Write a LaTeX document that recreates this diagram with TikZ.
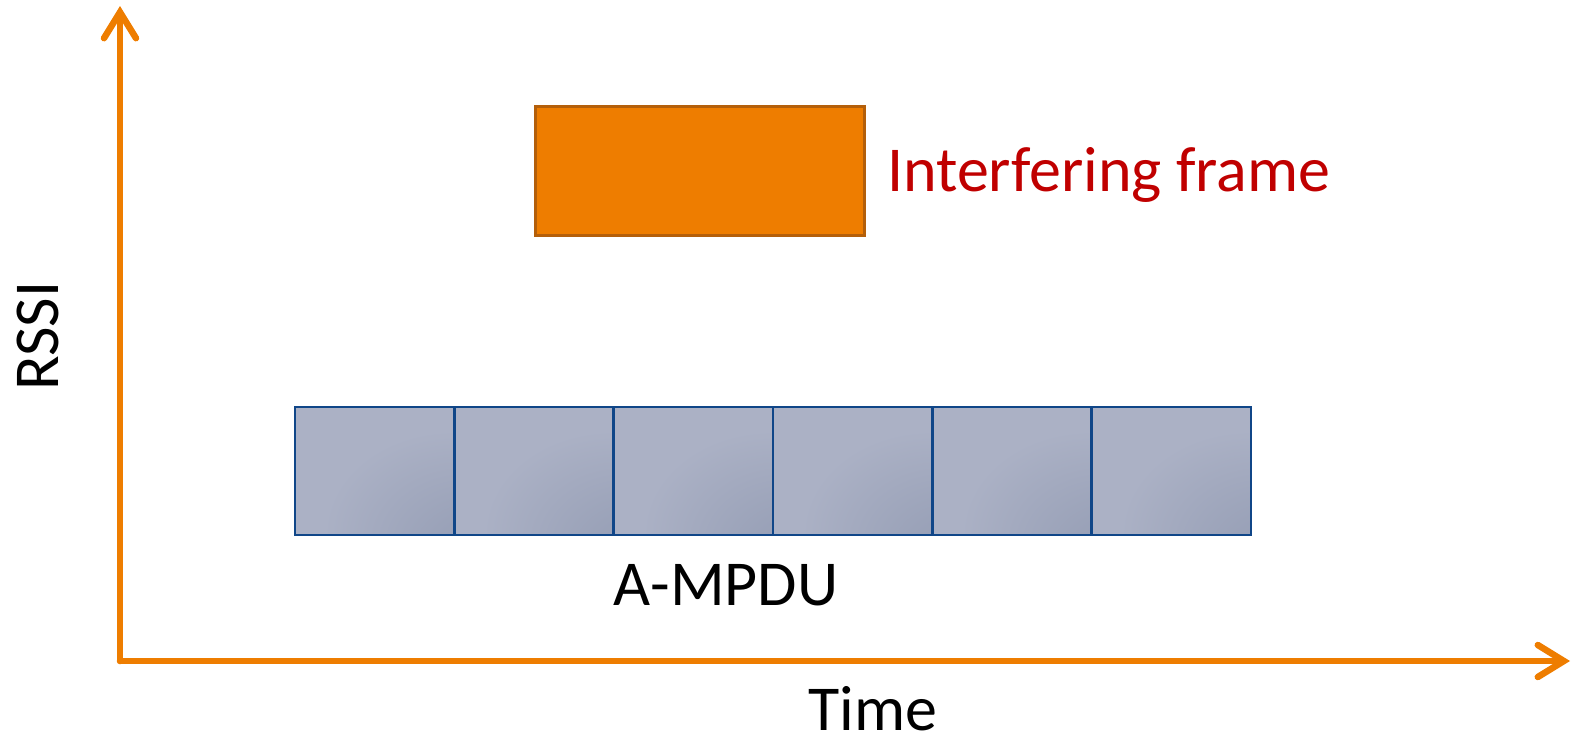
\documentclass[tikz,border=0pt]{standalone}
\usepackage{fontspec}
\setmainfont{Carlito}
\usetikzlibrary{arrows.meta}

\definecolor{axisorange}{RGB}{238,125,0}
\definecolor{frameorange}{RGB}{238,125,0}
\definecolor{frameedge}{RGB}{180,95,10}
\definecolor{labelred}{RGB}{192,0,0}
\definecolor{celllight}{RGB}{171,177,197}
\definecolor{celldark}{RGB}{143,152,176}
\definecolor{celledge}{RGB}{16,70,136}

% soft darkening toward the lower right corner of each sub-frame
\pgfdeclareradialshading{cellshade}{\pgfpoint{40bp}{-40bp}}{%
  color(0bp)=(celldark); color(40bp)=(celllight); color(100bp)=(celllight)}

\tikzset{
  axis/.style={draw=axisorange, line width=6.5pt, line cap=round,
    -{Straight Barb[length=26pt,width=32pt,line cap=round]}},
  mpducell/.style={draw=celledge, line width=2.4pt, shading=cellshade,
    minimum width=159.33pt, minimum height=128pt, inner sep=0pt,
    outer sep=0pt, anchor=north west},
  interferer/.style={draw=frameedge, fill=frameorange, line width=2.6pt,
    minimum width=329pt, minimum height=129pt, inner sep=0pt,
    anchor=north west},
  lbl/.style={font=\fontsize{64}{70}\selectfont, inner sep=0pt}
}

\begin{document}
\begin{tikzpicture}[x=1pt,y=-1pt]
  \useasboundingbox (0,0) rectangle (1573,737);

  % axes
  \coordinate (origin) at (120,661);
  \coordinate (ytop) at (120,6);
  \coordinate (xend) at (1570,661);
  \draw[axis] (origin) -- (ytop);
  \draw[axis] (origin) -- (xend);

  % interfering frame
  \node[interferer] (intf) at (534,105) {};
  \node[lbl, text=labelred, anchor=base west] (intflbl) at (887,191) {Interfering frame};

  % aggregated frame made of six sub-frames
  \foreach \i in {0,...,5} {
    \node[mpducell] (cell\i) at ({295+159.33*\i},407) {};
  }
  \node[lbl, anchor=base] (ampdu) at (726,605) {A-MPDU};

  % axis titles
  \node[lbl, anchor=base, text depth=0pt] (tlbl) at (873,730) {Time};
  \node[lbl, anchor=base, rotate=90] (rlbl) at (58,336) {RSSI};
\end{tikzpicture}
\end{document}
